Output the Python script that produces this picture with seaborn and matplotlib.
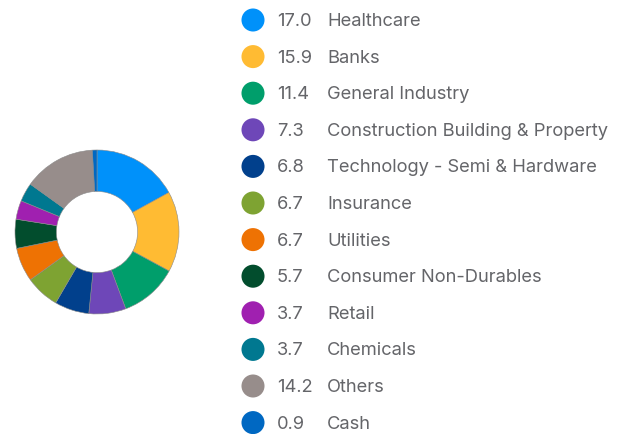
import matplotlib
matplotlib.use("Agg")
import matplotlib.pyplot as plt
import seaborn as sns

sns.set_theme(style="white")
plt.rcParams['font.family'] = ['Inter', 'DejaVu Sans']

categories = ["Healthcare", "Banks", "General Industry", "Construction Building & Property",
              "Technology - Semi & Hardware", "Insurance", "Utilities", "Consumer Non-Durables",
              "Retail", "Chemicals", "Others", "Cash"]
values = [17.0, 15.9, 11.4, 7.3, 6.8, 6.7, 6.7, 5.7, 3.7, 3.7, 14.2, 0.9]
value_labels = ["17.0", "15.9", "11.4", "7.3", "6.8", "6.7", "6.7", "5.7", "3.7", "3.7", "14.2", "0.9"]
colors = ["#0091FA", "#FFBB33", "#009E6B", "#6E47B8", "#01408C", "#7EA332", "#EE7203",
          "#024D2D", "#A020B0", "#007890", "#978D8B", "#0068C2"]

W, H = 628, 434
fig = plt.figure(figsize=(W / 100, H / 100), dpi=100)

# Donut
cx, cy, r = 97, 232, 82
ax = fig.add_axes([(cx - r) / W, (H - cy - r) / H, 2 * r / W, 2 * r / H])
ax.pie(values, colors=colors, startangle=90, counterclock=False,
       wedgeprops=dict(width=0.505, edgecolor="#8a8a8a", linewidth=0.4))
ax.set_aspect("equal")
ax.set_xlim(-1, 1)
ax.set_ylim(-1, 1)
ax.axis("off")

# Legend
lax = fig.add_axes([0, 0, 1, 1])
lax.set_xlim(0, W)
lax.set_ylim(H, 0)
lax.axis("off")
y0, dy = 20, 36.6
for i, (lab, v, c) in enumerate(zip(categories, value_labels, colors)):
    y = y0 + i * dy
    lax.scatter([253], [y], s=275, color=c, edgecolor="none")
    lax.text(277, y + 1.5, v, va="center", ha="left", fontsize=13.2, color="#646569")
    lax.text(327, y + 1.5, lab, va="center", ha="left", fontsize=13.2, color="#646569")

fig.savefig("out.png", dpi=100, facecolor="white")
